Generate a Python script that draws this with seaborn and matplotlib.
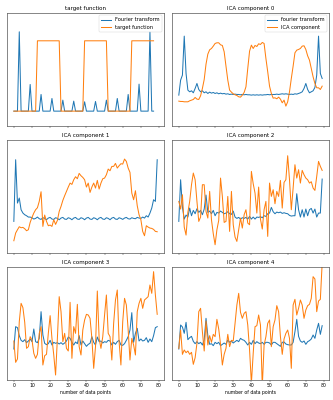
import numpy as np
import matplotlib
matplotlib.use('Agg')
import matplotlib.pyplot as plt
import seaborn as sns

# values (arbitrary amplitude, 0 = bottom of panel, 340 = top)
target_fourier = [45, 45, 45, 283, 45, 45, 45, 45, 45, 125, 45, 45, 45, 45, 45, 95,
                  45, 45, 45, 45, 45, 83, 45, 45, 45, 45, 45, 78, 45, 45, 45, 45,
                  45, 75, 45, 45, 45, 45, 45, 73, 45, 45, 45, 45, 45, 74, 45, 45,
                  45, 45, 45, 78, 45, 45, 45, 45, 45, 83, 45, 45, 45, 45, 45, 95,
                  45, 45, 45, 45, 45, 126, 45, 45, 45, 45, 45, 283, 45, 45]
target_signal = ([45] * 13 + [256] * 13 + [45] * 13 + [256] * 13 + [45] * 13 + [256] * 13)

comp0_fourier = [93, 138, 153, 270, 158, 108, 103, 106, 100, 113, 128, 110, 103, 106, 100, 103,
                 98, 102, 99, 101, 98, 100, 97, 99, 97, 98, 96, 97, 95, 96,
                 95, 96, 95, 95, 94, 95, 94, 95, 94, 94, 93, 94, 93, 94, 93,
                 94, 93, 94, 94, 95, 94, 95, 95, 95, 96, 95, 96, 97, 96, 97,
                 96, 95, 96, 95, 97, 96, 98, 100, 103, 113, 128, 110, 100, 103, 106,
                 116, 153, 270, 158, 143]
comp0_signal = [75, 74, 74, 73, 73, 73, 76, 78, 80, 86, 81, 80, 91, 113, 140, 186,
                216, 229, 233, 240, 248, 250, 250, 244, 242, 223, 180, 138, 108, 102,
                97, 94, 92, 88, 87, 93, 101, 118, 173, 225, 243, 233, 242, 239, 247,
                245, 251, 248, 203, 163, 120, 98, 84, 85, 82, 87, 81, 70, 78, 60,
                73, 103, 143, 180, 220, 228, 230, 233, 240, 241, 230, 211, 198, 173, 148,
                128, 115, 115, 110, 120]

comp1_fourier = [95, 280, 150, 165, 130, 120, 115, 112, 108, 108,
                 106, 102, 104, 108, 103, 101, 106, 104, 100, 105, 107, 102, 101, 106, 104,
                 100, 105, 107, 102, 101, 106, 104, 100, 105, 107, 102, 101, 106, 104, 100,
                 105, 107, 102, 101, 106, 104, 100, 105, 107, 102, 101, 106, 104, 100, 105,
                 107, 102, 101, 106, 104, 101, 105, 107, 103, 102, 106, 104, 103, 107, 105,
                 104, 108, 105, 112, 108, 120, 135, 160, 155, 280]
comp1_signal = [37, 60, 70, 79, 76, 77, 73, 67, 70, 92, 107, 120, 130, 136, 155, 184,
                80, 114, 95, 82, 84, 80, 100, 86, 98, 125, 140, 158, 172, 185,
                198, 210, 206, 220, 229, 223, 239, 232, 227, 220, 198, 210, 182, 198, 210,
                195, 218, 192, 210, 223, 225, 235, 252, 247, 260, 260, 269, 255, 262, 268,
                267, 282, 275, 255, 242, 180, 160, 187, 142, 115, 100, 65, 52, 82, 78,
                75, 74, 71, 65, 64]

comp2_fourier = [95, 220, 138, 102, 114, 108, 135, 112, 128, 118, 133, 122, 128, 115, 132, 174,
                 122, 126, 118, 128, 112, 122, 120, 126, 122, 118, 120, 124, 118, 116,
                 126, 108, 104, 107, 102, 106, 104, 107, 102, 110, 102, 108, 102, 108, 107,
                 109, 106, 112, 110, 118, 120, 137, 124, 118, 123, 121, 123, 119, 121, 119,
                 118, 113, 111, 112, 112, 178, 130, 108, 130, 108, 132, 112, 130, 134, 120,
                 132, 108, 120, 120, 222]
comp2_signal = [155, 132, 175, 78, 54, 122, 155, 205, 240, 220, 155, 95, 108, 205, 205, 125,
                105, 185, 100, 58, 25, 70, 98, 225, 170, 92, 95, 170, 65, 185,
                85, 48, 35, 70, 105, 75, 115, 130, 90, 85, 245, 208, 180, 120, 198,
                102, 72, 130, 155, 50, 210, 170, 190, 148, 185, 170, 218, 135, 212, 220,
                292, 220, 130, 195, 265, 225, 250, 210, 248, 235, 225, 220, 210, 214, 195,
                188, 230, 275, 260, 248]

comp3_fourier = [93, 160, 157, 133, 119, 115, 121, 112, 117, 123, 115, 153, 115, 112, 125, 205,
                 135, 110, 106, 109, 119, 105, 113, 110, 112, 108, 112, 107, 111, 117,
                 129, 125, 113, 105, 114, 109, 133, 105, 117, 109, 101, 107, 110, 130, 113,
                 105, 129, 115, 117, 111, 115, 113, 119, 117, 105, 113, 107, 115, 119, 105,
                 104, 109, 119, 130, 150, 202, 113, 140, 155, 117, 123, 117, 119, 127, 113,
                 123, 115, 133, 157, 160]
comp3_signal = [117, 53, 63, 175, 230, 217, 173, 95, 100, 130, 120, 80, 65, 77, 140, 160,
                45, 73, 77, 140, 193, 125, 75, 15, 125, 250, 205, 115, 140, 95,
                87, 233, 65, 160, 140, 227, 100, 75, 150, 180, 197, 195, 185, 125, 35,
                100, 267, 125, 95, 130, 195, 255, 140, 130, 60, 170, 240, 270, 115, 45,
                175, 245, 225, 150, 60, 125, 105, 75, 205, 230, 245, 215, 240, 245, 250,
                285, 260, 325, 255, 197]

comp4_fourier = [93, 165, 159, 140, 173, 121, 127, 131, 116, 109, 115, 109, 113, 105, 120, 185,
                 133, 107, 109, 103, 113, 109, 113, 103, 107, 111, 107, 120, 113, 117,
                 111, 115, 119, 115, 125, 121, 119, 113, 105, 113, 107, 119, 109, 115, 111,
                 109, 113, 107, 113, 113, 111, 105, 113, 113, 109, 105, 101, 113, 114, 108,
                 106, 105, 105, 113, 145, 182, 131, 117, 113, 117, 107, 115, 118, 123, 135,
                 125, 150, 170, 137, 163]
comp4_signal = [95, 150, 77, 90, 82, 87, 77, 83, 47, 67, 110, 205, 215, 145, 87, 177,
                105, 133, 113, 137, 130, 182, 153, 107, 45, 77, 95, 137, 100, 119,
                117, 170, 225, 260, 203, 185, 200, 205, 165, 90, -10, 80, 160, 163, 195,
                165, -20, 105, 130, 170, 180, 100, 160, 180, 223, 205, 130, 77, 123, 140,
                150, 125, 35, 225, 242, 195, 215, 240, 225, 185, 210, 223, 227, 245, 310,
                303, 205, 237, 242, 350]

titles = ['target function', 'ICA component 0', 'ICA component 1',
          'ICA component 2', 'ICA component 3', 'ICA component 4']
fourier_series = [target_fourier, comp0_fourier, comp1_fourier,
                  comp2_fourier, comp3_fourier, comp4_fourier]
signal_series = [target_signal, comp0_signal, comp1_signal,
                 comp2_signal, comp3_signal, comp4_signal]

fig, axes = plt.subplots(3, 2, figsize=(10, 12), sharex=True)
fig.subplots_adjust(left=0.02, right=0.988, top=0.968, bottom=0.05,
                    wspace=0.046, hspace=0.12)

for i, ax in enumerate(axes.flat):
    f = np.array(fourier_series[i])
    s = np.array(signal_series[i])
    sns.lineplot(x=np.arange(len(f)), y=f, ax=ax, color='tab:blue', linewidth=2.2, legend=False)
    sns.lineplot(x=np.arange(len(s)), y=s, ax=ax, color='tab:orange', linewidth=2.2, legend=False)
    ax.set_title(titles[i])
    ax.set_yticks([])
    ax.set_ylabel('')
    ax.set_ylim(0, 340)
    for sp in ax.spines.values():
        sp.set_linewidth(1.5)
        sp.set_edgecolor('#555555')

axes[0, 0].legend(axes[0, 0].get_lines(), ['Fourier transform', 'target function'],
                  loc='upper right', fontsize=11)
axes[0, 1].legend(axes[0, 1].get_lines(), ['fourier transform', 'ICA component'],
                  loc='upper right', fontsize=11)

for ax in axes[2]:
    ax.set_xlabel('number of data points')

fig.savefig('out.png', dpi=100 / 3)
